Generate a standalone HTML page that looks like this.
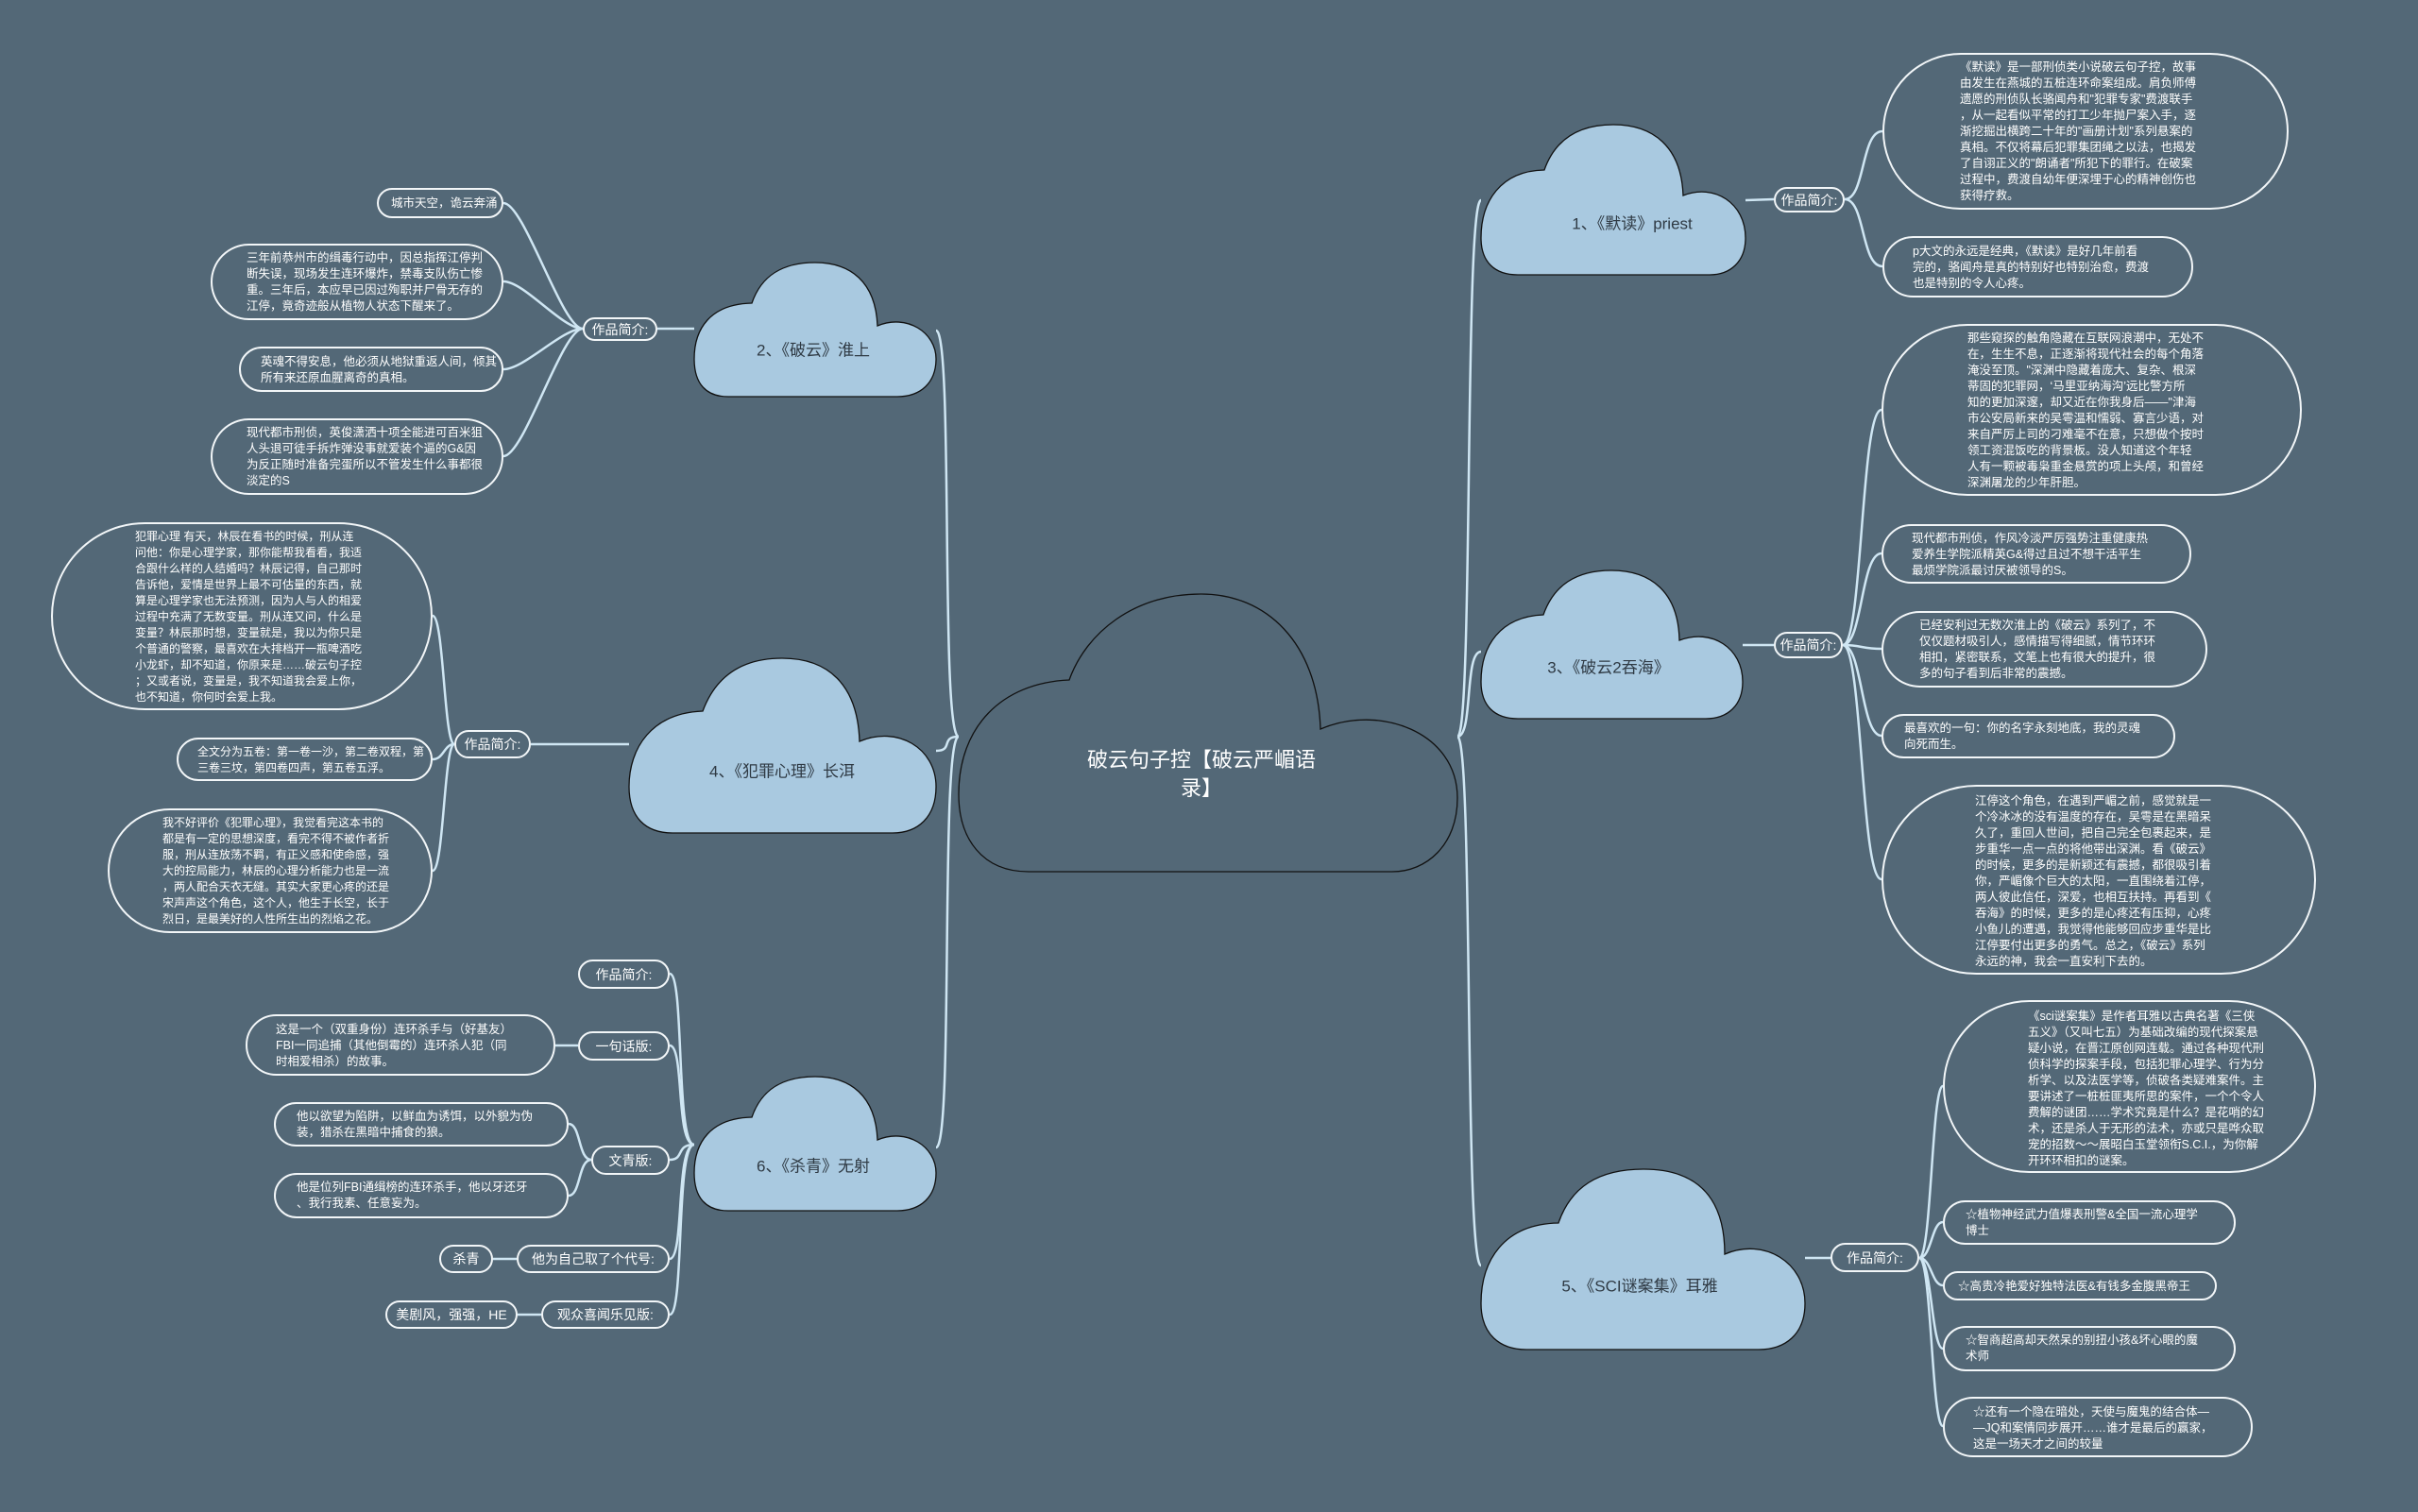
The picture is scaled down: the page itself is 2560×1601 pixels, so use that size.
<!DOCTYPE html>
<html><head><meta charset="utf-8">
<style>
body{margin:0;width:2560px;height:1601px;background:#536877;overflow:hidden;position:relative;font-family:"Liberation Sans","Noto Sans CJK SC",sans-serif;}
svg{position:absolute;left:0;top:0}
.b{position:absolute;box-sizing:border-box;border:2px solid #f2f6f8;border-radius:999px;color:#fff;font-size:12.5px;line-height:17px;}
.b .t{position:absolute;white-space:nowrap;}
.l{position:absolute;box-sizing:border-box;border:2px solid #f2f6f8;border-radius:999px;color:#fff;font-size:14px;display:flex;align-items:center;justify-content:center;white-space:nowrap}
.c{position:absolute;color:#2f3a44;font-size:17px;transform:translate(-50%,-50%);white-space:nowrap}
</style></head><body>
<svg width="2560" height="1601" viewBox="0 0 2560 1601">
<g fill="none" stroke="#cfe6f3" stroke-width="2.5">
<path d="M1543,780 C1560,780 1550,212 1568,212"/>
<path d="M1543,780 C1560,780 1550,690 1568,690"/>
<path d="M1543,780 C1560,780 1550,1340 1568,1340"/>
<path d="M1015,780 C995,780 1010,350 991,350"/>
<path d="M1015,780 C995,780 1010,795 991,795"/>
<path d="M1015,780 C995,780 1010,1215 991,1215"/>
<path d="M1848,212 L1878,211"/>
<path d="M1953,211 C1975,211 1970,139 1993,139"/>
<path d="M1953,211 C1975,211 1970,282 1993,282"/>
<path d="M1845,683 L1878,683"/>
<path d="M1951,683 C1972,683 1970,434 1992,434"/>
<path d="M1951,683 C1972,683 1970,586 1992,586"/>
<path d="M1951,683 C1972,683 1970,687 1992,687"/>
<path d="M1951,683 C1972,683 1970,779 1992,779"/>
<path d="M1951,683 C1972,683 1970,931 1992,931"/>
<path d="M1911,1332 L1938,1332"/>
<path d="M2032,1332 C2045,1332 2045,1150 2057,1150"/>
<path d="M2032,1332 C2045,1332 2045,1294 2057,1294"/>
<path d="M2032,1332 C2045,1332 2045,1361 2057,1361"/>
<path d="M2032,1332 C2045,1332 2045,1428 2057,1428"/>
<path d="M2032,1332 C2045,1332 2045,1510 2057,1510"/>
<path d="M735,348 L696,348"/>
<path d="M617,348 C595,348 555,215 533,215"/>
<path d="M617,348 C595,348 555,298 533,298"/>
<path d="M617,348 C595,348 555,391 533,391"/>
<path d="M617,348 C595,348 555,483 533,483"/>
<path d="M666,788 L562,788"/>
<path d="M481,788 C470,788 470,652 458,652"/>
<path d="M481,788 C470,788 470,804 458,804"/>
<path d="M481,788 C470,788 470,922 458,922"/>
<path d="M735,1212 C715,1212 725,1031 709,1031"/>
<path d="M735,1212 C715,1212 725,1107 709,1107"/>
<path d="M735,1212 C715,1212 725,1228 709,1228"/>
<path d="M735,1212 C715,1212 725,1333 709,1333"/>
<path d="M735,1212 C715,1212 725,1392 709,1392"/>
<path d="M612,1107 L588,1107"/>
<path d="M626,1228 C612,1228 615,1190 602,1190"/>
<path d="M626,1228 C612,1228 615,1266 602,1266"/>
<path d="M547,1333 L522,1333"/>
<path d="M573,1392 L548,1392"/>
</g>
<path fill="#536877" stroke="#111" stroke-width="1.3" d="M1089,923 C1040,923 1015,888 1015,841 C1015,770 1060,723 1132,720 C1150,670 1200,629 1272,629 C1340,629 1395,680 1398,772 C1460,745 1543,775 1543,845 C1543,895 1510,923 1474,923 Z"/>
<g fill="#a9c9e0" stroke="#111" stroke-width="1.3">
<path d="M1607,291 C1582,291 1568,277 1568,252 C1568,214 1588,181 1635,180 C1646,149 1670,132 1708,132 C1750,132 1780,155 1782,207 C1815,194 1848,215 1848,252 C1848,277 1832,291 1810,291 Z"/>
<path d="M771,420 C748,420 735,407 735,380 C735,348 752,322 796,321 C806,292 828,278 863,278 C900,278 927,298 929,345 C960,332 991,352 991,380 C991,405 975,420 950,420 Z"/>
<path d="M1607,761 C1582,761 1568,747 1568,722 C1568,684 1588,653 1634,651 C1645,620 1668,604 1706,604 C1748,604 1777,627 1778,678 C1812,665 1845,686 1845,722 C1845,747 1829,761 1806,761 Z"/>
<path d="M712,882 C683,882 666,865 666,833 C666,792 690,755 744,753 C757,718 783,697 828,697 C876,697 908,724 910,785 C950,768 991,792 991,833 C991,865 972,882 945,882 Z"/>
<path d="M1616,1429 C1588,1429 1568,1413 1568,1380 C1568,1335 1592,1296 1650,1295 C1663,1257 1692,1238 1740,1238 C1795,1238 1826,1266 1826,1328 C1868,1310 1911,1337 1911,1380 C1911,1413 1890,1429 1862,1429 Z"/>
<path d="M771,1282 C748,1282 735,1269 735,1242 C735,1210 752,1184 796,1183 C806,1154 828,1140 863,1140 C900,1140 927,1160 929,1207 C960,1194 991,1214 991,1242 C991,1267 975,1282 950,1282 Z"/>
</g>
</svg>

<div class="c" style="left:1272px;top:820px;color:#fff;font-size:22px;line-height:30px;text-align:center;white-space:normal;width:260px">破云句子控【破云严嵋语录】</div>
<div class="c" style="left:1728px;top:235px">1、《默读》priest</div>
<div class="c" style="left:861px;top:369px">2、《破云》淮上</div>
<div class="c" style="left:1703px;top:705px">3、《破云2吞海》</div>
<div class="c" style="left:828px;top:815px">4、《犯罪心理》长洱</div>
<div class="c" style="left:1736px;top:1360px">5、《SCI谜案集》耳雅</div>
<div class="c" style="left:861px;top:1233px">6、《杀青》无射</div>

<div class="l" style="left:1878px;top:198px;width:75px;height:27px">作品简介:</div>
<div class="b" style="left:1993px;top:56px;width:430px;height:166px"><div class="t" style="left:80px;top:5px">《默读》是一部刑侦类小说破云句子控，故事<br>由发生在燕城的五桩连环命案组成。肩负师傅<br>遗愿的刑侦队长骆闻舟和"犯罪专家"费渡联手<br>，从一起看似平常的打工少年抛尸案入手，逐<br>渐挖掘出横跨二十年的"画册计划"系列悬案的<br>真相。不仅将幕后犯罪集团绳之以法，也揭发<br>了自诩正义的"朗诵者"所犯下的罪行。在破案<br>过程中，费渡自幼年便深埋于心的精神创伤也<br>获得疗救。</div></div>
<div class="b" style="left:1993px;top:250px;width:329px;height:65px"><div class="t" style="left:30px;top:6px">p大文的永远是经典，《默读》是好几年前看<br>完的，骆闻舟是真的特别好也特别治愈，费渡<br>也是特别的令人心疼。</div></div>

<div class="l" style="left:1878px;top:669px;width:73px;height:28px">作品简介:</div>
<div class="b" style="left:1992px;top:343px;width:445px;height:182px"><div class="t" style="left:89px;top:5px">那些窥探的触角隐藏在互联网浪潮中，无处不<br>在，生生不息，正逐渐将现代社会的每个角落<br>淹没至顶。"深渊中隐藏着庞大、复杂、根深<br>蒂固的犯罪网，‘马里亚纳海沟’远比警方所<br>知的更加深邃，却又近在你我身后——"津海<br>市公安局新来的吴雩温和懦弱、寡言少语，对<br>来自严厉上司的刁难毫不在意，只想做个按时<br>领工资混饭吃的背景板。没人知道这个年轻<br>人有一颗被毒枭重金悬赏的项上头颅，和曾经<br>深渊屠龙的少年肝胆。</div></div>
<div class="b" style="left:1992px;top:555px;width:328px;height:63px"><div class="t" style="left:30px;top:5px">现代都市刑侦，作风冷淡严厉强势注重健康热<br>爱养生学院派精英G&amp;得过且过不想干活平生<br>最烦学院派最讨厌被领导的S。</div></div>
<div class="b" style="left:1992px;top:647px;width:345px;height:81px"><div class="t" style="left:38px;top:5px">已经安利过无数次淮上的《破云》系列了，不<br>仅仅题材吸引人，感情描写得细腻，情节环环<br>相扣，紧密联系，文笔上也有很大的提升，很<br>多的句子看到后非常的震撼。</div></div>
<div class="b" style="left:1992px;top:756px;width:311px;height:47px"><div class="t" style="left:22px;top:5px">最喜欢的一句：你的名字永刻地底，我的灵魂<br>向死而生。</div></div>
<div class="b" style="left:1992px;top:831px;width:460px;height:201px"><div class="t" style="left:97px;top:7px">江停这个角色，在遇到严嵋之前，感觉就是一<br>个冷冰冰的没有温度的存在，吴雩是在黑暗呆<br>久了，重回人世间，把自己完全包裹起来，是<br>步重华一点一点的将他带出深渊。看《破云》<br>的时候，更多的是新颖还有震撼，都很吸引着<br>你，严嵋像个巨大的太阳，一直围绕着江停，<br>两人彼此信任，深爱，也相互扶持。再看到《<br>吞海》的时候，更多的是心疼还有压抑，心疼<br>小鱼儿的遭遇，我觉得他能够回应步重华是比<br>江停要付出更多的勇气。总之，《破云》系列<br>永远的神，我会一直安利下去的。</div></div>

<div class="l" style="left:1938px;top:1316px;width:94px;height:31px">作品简介:</div>
<div class="b" style="left:2057px;top:1059px;width:395px;height:183px"><div class="t" style="left:88px;top:7px">《sci谜案集》是作者耳雅以古典名著《三侠<br>五义》（又叫七五）为基础改编的现代探案悬<br>疑小说，在晋江原创网连载。通过各种现代刑<br>侦科学的探案手段，包括犯罪心理学、行为分<br>析学、以及法医学等，侦破各类疑难案件。主<br>要讲述了一桩桩匪夷所思的案件，一个个令人<br>费解的谜团……学术究竟是什么？是花哨的幻<br>术，还是杀人于无形的法术，亦或只是哗众取<br>宠的招数～～展昭白玉堂领衔S.C.I.，为你解<br>开环环相扣的谜案。</div></div>
<div class="b" style="left:2057px;top:1271px;width:310px;height:47px"><div class="t" style="left:22px;top:5px">☆植物神经武力值爆表刑警&amp;全国一流心理学<br>博士</div></div>
<div class="b" style="left:2057px;top:1346px;width:290px;height:31px"><div class="t" style="left:14px;top:6px">☆高贵冷艳爱好独特法医&amp;有钱多金腹黑帝王</div></div>
<div class="b" style="left:2057px;top:1404px;width:310px;height:48px"><div class="t" style="left:22px;top:5px">☆智商超高却天然呆的别扭小孩&amp;坏心眼的魔<br>术师</div></div>
<div class="b" style="left:2057px;top:1479px;width:328px;height:64px"><div class="t" style="left:30px;top:6px">☆还有一个隐在暗处，天使与魔鬼的结合体—<br>—JQ和案情同步展开……谁才是最后的赢家，<br>这是一场天才之间的较量</div></div>

<div class="l" style="left:617px;top:336px;width:79px;height:25px">作品简介:</div>
<div class="b" style="left:399px;top:199px;width:134px;height:32px"><div class="t" style="left:13px;top:6px">城市天空，诡云奔涌</div></div>
<div class="b" style="left:223px;top:258px;width:310px;height:81px"><div class="t" style="left:36px;top:5px">三年前恭州市的缉毒行动中，因总指挥江停判<br>断失误，现场发生连环爆炸，禁毒支队伤亡惨<br>重。三年后，本应早已因过殉职并尸骨无存的<br>江停，竟奇迹般从植物人状态下醒来了。</div></div>
<div class="b" style="left:253px;top:367px;width:280px;height:48px"><div class="t" style="left:21px;top:6px">英魂不得安息，他必须从地狱重返人间，倾其<br>所有来还原血腥离奇的真相。</div></div>
<div class="b" style="left:223px;top:443px;width:310px;height:81px"><div class="t" style="left:36px;top:5px">现代都市刑侦，英俊潇洒十项全能进可百米狙<br>人头退可徒手拆炸弹没事就爱装个逼的G&amp;因<br>为反正随时准备完蛋所以不管发生什么事都很<br>淡定的S</div></div>

<div class="l" style="left:481px;top:773px;width:81px;height:30px">作品简介:</div>
<div class="b" style="left:54px;top:553px;width:404px;height:199px"><div class="t" style="left:87px;top:5px;font-size:12px">犯罪心理 有天，林辰在看书的时候，刑从连<br>问他：你是心理学家，那你能帮我看看，我适<br>合跟什么样的人结婚吗？林辰记得，自己那时<br>告诉他，爱情是世界上最不可估量的东西，就<br>算是心理学家也无法预测，因为人与人的相爱<br>过程中充满了无数变量。刑从连又问，什么是<br>变量？林辰那时想，变量就是，我以为你只是<br>个普通的警察，最喜欢在大排档开一瓶啤酒吃<br>小龙虾，却不知道，你原来是……破云句子控<br>；又或者说，变量是，我不知道我会爱上你，<br>也不知道，你何时会爱上我。</div></div>
<div class="b" style="left:187px;top:781px;width:271px;height:46px"><div class="t" style="left:20px;top:5px;font-size:12px">全文分为五卷：第一卷一沙，第二卷双程，第<br>三卷三坟，第四卷四声，第五卷五浮。</div></div>
<div class="b" style="left:114px;top:856px;width:344px;height:132px"><div class="t" style="left:56px;top:5px;font-size:12px">我不好评价《犯罪心理》，我觉看完这本书的<br>都是有一定的思想深度，看完不得不被作者折<br>服，刑从连放荡不羁，有正义感和使命感，强<br>大的控局能力，林辰的心理分析能力也是一流<br>，两人配合天衣无缝。其实大家更心疼的还是<br>宋声声这个角色，这个人，他生于长空，长于<br>烈日，是最美好的人性所生出的烈焰之花。</div></div>

<div class="l" style="left:612px;top:1016px;width:97px;height:31px">作品简介:</div>
<div class="l" style="left:612px;top:1092px;width:97px;height:31px">一句话版:</div>
<div class="b" style="left:260px;top:1074px;width:328px;height:65px"><div class="t" style="left:30px;top:6px">这是一个（双重身份）连环杀手与（好基友）<br>FBI一同追捕（其他倒霉的）连环杀人犯（同<br>时相爱相杀）的故事。</div></div>
<div class="l" style="left:626px;top:1213px;width:83px;height:31px">文青版:</div>
<div class="b" style="left:290px;top:1167px;width:312px;height:47px"><div class="t" style="left:22px;top:5px">他以欲望为陷阱，以鲜血为诱饵，以外貌为伪<br>装，猎杀在黑暗中捕食的狼。</div></div>
<div class="b" style="left:290px;top:1242px;width:312px;height:48px"><div class="t" style="left:22px;top:5px">他是位列FBI通缉榜的连环杀手，他以牙还牙<br>、我行我素、任意妄为。</div></div>
<div class="l" style="left:547px;top:1318px;width:162px;height:30px">他为自己取了个代号:</div>
<div class="l" style="left:465px;top:1318px;width:57px;height:30px">杀青</div>
<div class="l" style="left:573px;top:1377px;width:136px;height:30px">观众喜闻乐见版:</div>
<div class="l" style="left:408px;top:1377px;width:140px;height:30px">美剧风，强强，HE</div>
</body></html>
